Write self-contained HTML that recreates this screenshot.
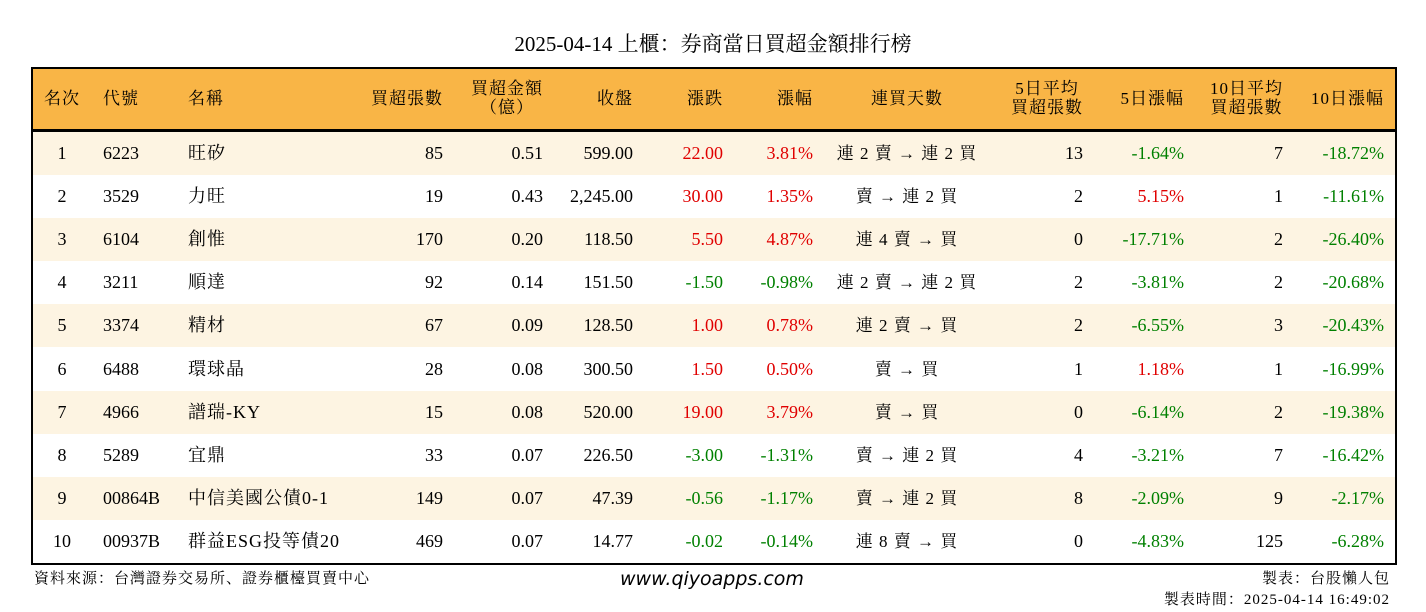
<!DOCTYPE html>
<html><head><meta charset="utf-8">
<style>
body{margin:0;width:1426px;height:612px;background:#fff;position:relative;overflow:hidden;font-family:"Liberation Serif","Noto Serif CJK SC",serif;color:#000}
.a{position:absolute;white-space:nowrap}
#tbl{position:absolute;left:31px;top:67px;width:1362px;height:494px;border:2px solid #000;overflow:hidden}
.hdr{position:absolute;left:0;top:0;width:1362px;height:60px;background:#F9B546;border-bottom:3px solid #000}
.row{position:absolute;left:0;width:1362px;height:43px}
.c{position:absolute;font-size:18px;line-height:43px;top:0}
.h{position:absolute;font-size:17px;line-height:19px;text-align:center;letter-spacing:1px}
</style></head><body>
<div class="a" style="left:0;width:1426px;top:28px;text-align:center;font-size:21px">2025-04-14 上櫃：券商當日買超金額排行榜</div>
<div id="tbl"></div>
<div class="a" style="left:34px;top:567px;font-size:15px;letter-spacing:1px">資料來源：台灣證券交易所、證券櫃檯買賣中心</div>
<div class="a" style="left:620px;top:568px;font-size:19px;font-style:italic;font-family:'DejaVu Sans',sans-serif">www.qiyoapps.com</div>
<div class="a" style="right:36px;top:567px;font-size:15px;letter-spacing:1px">製表：台股懶人包</div>
<div class="a" style="right:36px;top:588px;font-size:15px;letter-spacing:1px">製表時間：2025-04-14 16:49:02</div>
<script>
const ranks=[1,2,3,4,5,6,7,8,9,10];
const codes=["6223","3529","6104","3211","3374","6488","4966","5289","00864B","00937B"];
const names=["旺矽","力旺","創惟","順達","精材","環球晶","譜瑞-KY","宜鼎","中信美國公債0-1","群益ESG投等債20"];
const netLots=["85","19","170","92","67","28","15","33","149","469"];
const netAmt=["0.51","0.43","0.20","0.14","0.09","0.08","0.08","0.07","0.07","0.07"];
const closes=["599.00","2,245.00","118.50","151.50","128.50","300.50","520.00","226.50","47.39","14.77"];
const changes=["22.00","30.00","5.50","-1.50","1.00","1.50","19.00","-3.00","-0.56","-0.02"];
const pcts=["3.81%","1.35%","4.87%","-0.98%","0.78%","0.50%","3.79%","-1.31%","-1.17%","-0.14%"];
const streaks=["連 2 賣 → 連 2 買","賣 → 連 2 買","連 4 賣 → 買","連 2 賣 → 連 2 買","連 2 賣 → 買","賣 → 買","賣 → 買","賣 → 連 2 買","賣 → 連 2 買","連 8 賣 → 買"];
const avg5=["13","2","0","2","2","1","0","4","8","0"];
const pct5=["-1.64%","5.15%","-17.71%","-3.81%","-6.55%","1.18%","-6.14%","-3.21%","-2.09%","-4.83%"];
const avg10=["7","1","2","2","3","1","2","7","9","125"];
const pct10=["-18.72%","-11.61%","-26.40%","-20.68%","-20.43%","-16.99%","-19.38%","-16.42%","-2.17%","-6.28%"];
const tbl=document.getElementById('tbl');
const cols=[
 ["c",29,["名次"]],["l",70,["代號"]],["l",155,["名稱"]],["r",410,["買超張數"]],["r",510,["買超金額","（億）"]],
 ["r",600,["收盤"]],["r",690,["漲跌"]],["r",780,["漲幅"]],["c",874,["連買天數"]],["r",1050,["5日平均","買超張數"]],
 ["r",1151,["5日漲幅"]],["r",1250,["10日平均","買超張數"]],["r",1351,["10日漲幅"]]];
const hdr=document.createElement('div');hdr.className='hdr';


tbl.appendChild(hdr);
function place(el,t,p){if(t=="l")el.style.left=p+"px";else if(t=="r")el.style.right=(1362-p)+"px";else{el.style.left=(p-150)+"px";el.style.width="300px";el.style.textAlign="center";}}
cols.forEach((c,i)=>{const d=document.createElement('div');d.className='h';
 
 
 d.innerHTML=c[2].join('<br>');d.style.top=(c[2].length==1?20:10)+"px";
 if(c[0]=="r"){d.style.right=(1362-c[1])+"px";d.style.textAlign=c[2].length>1?"center":"right";}else place(d,c[0],c[1]);
 hdr.appendChild(d);});
function color(v){return v.startsWith('-')?'#008000':'#E00000';}
ranks.forEach((r,i)=>{
 const row=document.createElement('div');row.className='row';
 
 
 row.style.top=(63+i*43.1)+"px";row.style.background=i%2==0?'#FDF4E2':'#fff';
 tbl.appendChild(row);
 const vals=[r,codes[i],names[i],netLots[i],netAmt[i],closes[i],changes[i],pcts[i],streaks[i],avg5[i],pct5[i],avg10[i],pct10[i]];
 vals.forEach((v,j)=>{const d=document.createElement('div');d.className='c';
  
  
  d.textContent=v;place(d,cols[j][0],cols[j][1]);
  if(j==6||j==7||j==10||j==12)d.style.color=color(v);
  if(j==8){d.style.fontSize="17px";d.style.letterSpacing="1px";}
  if(j==2){d.style.letterSpacing="1px";}
  row.appendChild(d);});
});
</script>
</body></html>
